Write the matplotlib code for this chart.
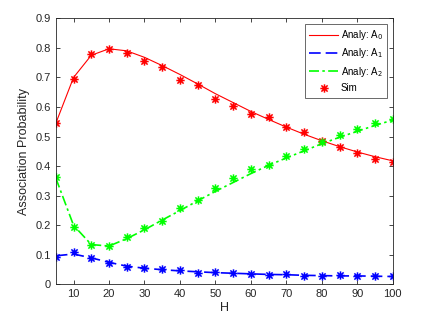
import numpy as np
import matplotlib
matplotlib.use("Agg")
import matplotlib.pyplot as plt
from matplotlib.path import Path

plt.rcParams['font.family'] = ['Liberation Sans', 'DejaVu Sans']

# H values
h = [5, 10, 15, 20, 25, 30, 35, 40, 45, 50, 55, 60, 65, 70, 75, 80, 85, 90, 95, 100]

# analytic curves
analy_a0 = [0.545, 0.700, 0.775, 0.797, 0.790, 0.768, 0.740, 0.710, 0.678, 0.645,
            0.615, 0.585, 0.558, 0.532, 0.508, 0.486, 0.466, 0.448, 0.432, 0.418]
analy_a1 = [0.097, 0.103, 0.090, 0.075, 0.062, 0.055, 0.050, 0.046, 0.043, 0.040,
            0.038, 0.036, 0.034, 0.033, 0.031, 0.030, 0.029, 0.029, 0.028, 0.027]
analy_a2 = [0.360, 0.200, 0.135, 0.130, 0.155, 0.185, 0.218, 0.250, 0.283, 0.315,
            0.345, 0.375, 0.403, 0.428, 0.452, 0.476, 0.498, 0.518, 0.538, 0.556]

# simulation points
sim_a0 = [0.545, 0.695, 0.779, 0.796, 0.783, 0.754, 0.736, 0.691, 0.675, 0.628,
          0.603, 0.577, 0.565, 0.532, 0.515, 0.486, 0.466, 0.445, 0.425, 0.414]
sim_a1 = [0.094, 0.109, 0.088, 0.074, 0.058, 0.056, 0.051, 0.048, 0.038, 0.042,
          0.039, 0.036, 0.032, 0.034, 0.030, 0.030, 0.031, 0.029, 0.029, 0.028]
sim_a2 = [0.362, 0.195, 0.134, 0.130, 0.159, 0.190, 0.215, 0.259, 0.285, 0.327,
          0.361, 0.389, 0.405, 0.434, 0.458, 0.482, 0.507, 0.526, 0.546, 0.559]

# matlab style asterisk: + and x on top of each other
d = 0.75
verts = [(-1, 0), (1, 0), (0, -1), (0, 1), (-d, -d), (d, d), (-d, d), (d, -d)]
codes = [Path.MOVETO, Path.LINETO] * 4
star = Path(verts, codes)

fig = plt.figure(figsize=(4.36, 3.27), dpi=100)
ax = fig.add_axes([0.128, 0.130, 0.773, 0.814])

ax.plot(h, analy_a0, '-', color='red', lw=0.8, label='Analy: A$_0$')
ax.plot(h, analy_a1, '--', color='blue', lw=1.2, dashes=(7, 3), label='Analy: A$_1$')
ax.plot(h, analy_a2, '-.', color='#00ff00', lw=1.2, dashes=(6, 2, 1.5, 2), label='Analy: A$_2$')
ax.plot(h, sim_a0, ls='none', marker=star, ms=6, mew=1.1, color='red', label='Sim')
ax.plot(h, sim_a1, ls='none', marker=star, ms=6, mew=1.1, color='blue')
ax.plot(h, sim_a2, ls='none', marker=star, ms=6, mew=1.1, color='#00ff00')

ax.set_xlim(5, 100)
ax.set_ylim(0, 0.9)
ax.set_xticks(np.arange(10, 101, 10))
ax.set_yticks(np.arange(0, 0.91, 0.1))
ax.set_yticklabels(['0', '0.1', '0.2', '0.3', '0.4', '0.5', '0.6', '0.7', '0.8', '0.9'])
ax.tick_params(direction='in', top=True, right=True, labelsize=8, colors='#262626',
               length=3, width=0.6)
for s in ax.spines.values():
    s.set_color('#262626')
    s.set_linewidth(0.6)
ax.set_xlabel('H', fontsize=9, color='#262626', labelpad=2)
ax.set_ylabel('Association Probability', fontsize=9, color='#262626', labelpad=4)

leg = ax.legend(loc='upper right', fontsize=7, frameon=True, fancybox=False,
                edgecolor='#262626', borderaxespad=0.55, handlelength=3.0,
                handletextpad=0.25, labelspacing=0.45, borderpad=0.45)
leg.get_frame().set_linewidth(0.6)

fig.savefig('out.png', dpi=100)
